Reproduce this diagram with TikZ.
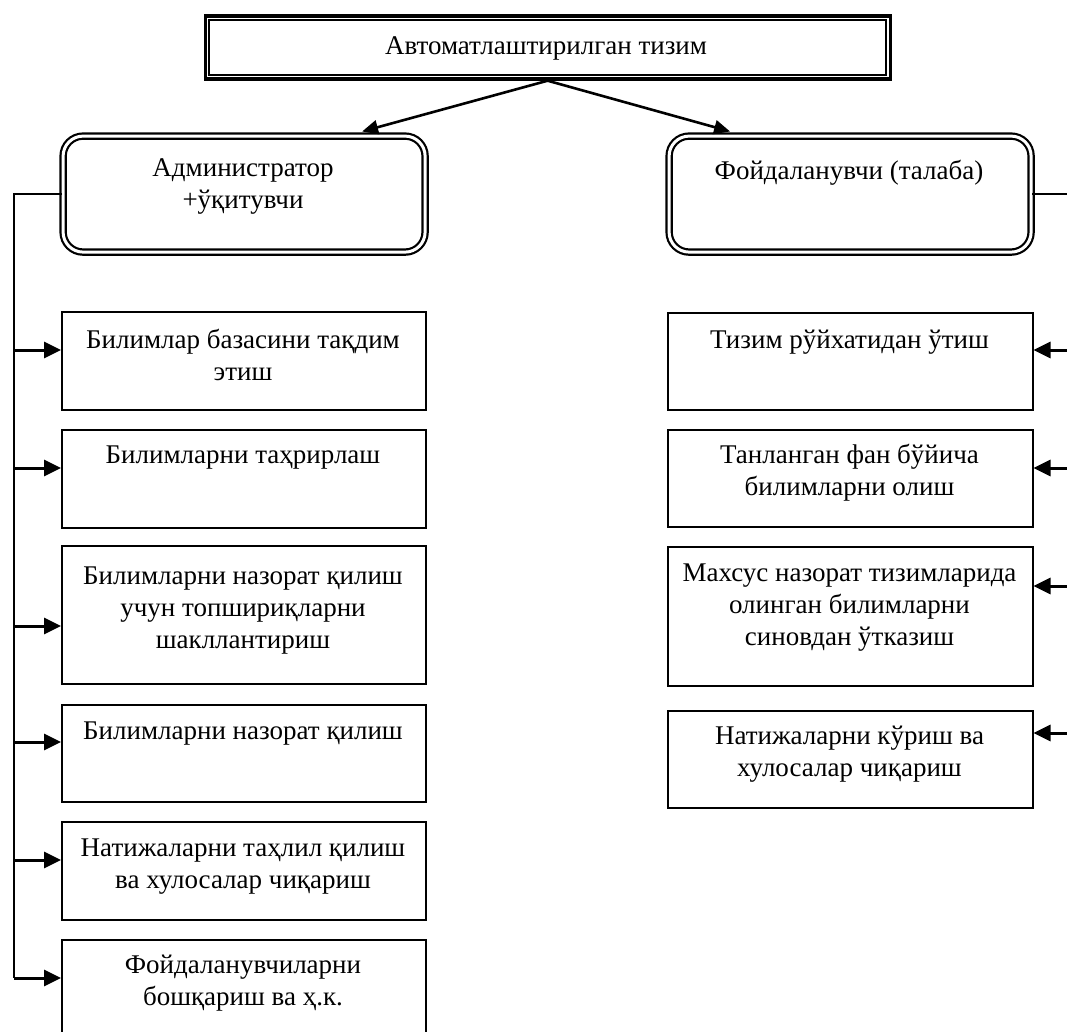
\documentclass[tikz,border=0pt]{standalone}
\usepackage{fontspec}
\setmainfont{Liberation Serif}
\usetikzlibrary{arrows.meta}
\begin{document}
\begin{tikzpicture}[x=1pt,y=-1pt,
  txt/.style={font=\fontsize{27}{32}\selectfont, align=center, inner sep=0pt},
  plainbox/.style={draw, line width=1.5pt, inner sep=0pt, anchor=north west},
  rbox/.style={draw, line width=2.2pt, double, double distance=3pt, rounded corners=20pt, inner sep=0pt, anchor=north west, minimum width=362pt, minimum height=116pt},
  conn/.style={line width=1.5pt},
  arr/.style={line width=3pt, -{Triangle[length=17pt,width=16pt]}},
  tarr/.style={line width=2.6pt, -{Triangle[length=16pt,width=14pt]}}
]
\useasboundingbox (0,0) rectangle (1067,1032);
\clip (0,0) rectangle (1067,1032);

% top box
\node[draw, line width=3.2pt, inner sep=0pt, anchor=north west, minimum width=685pt, minimum height=63pt] (top) at (203.5,14.5) {};
\draw[line width=1.8pt] ([shift={(5.5,5.5)}]top.north west) rectangle ([shift={(-5.5,-5.5)}]top.south east);
\node[txt] (ttop) at (546,48) {Автоматлаштирилган тизим};

% role boxes
\node[rbox] (admin) at (62,135) {};
\node[txt] (tadmin) at (243,187) {Администратор\\+ўқитувчи};
\node[rbox] (user) at (668,135) {};
\node[txt] (tuser) at (849,173) {Фойдаланувчи (талаба)};

% top arrows
\draw[tarr] (top.south) -- ([xshift=118pt,yshift=3.5pt]admin.north);
\draw[tarr] (top.south) -- ([xshift=-120pt,yshift=3.5pt]user.north);

% left boxes
\node[plainbox, minimum width=364pt, minimum height=98pt] (b1) at (61,311) {};
\node[txt] (tb1) at (243,355) {Билимлар базасини тақдим\\этиш};
\node[plainbox, minimum width=364pt, minimum height=98pt] (b2) at (61,429) {};
\node[txt] (tb2) at (243,458) {Билимларни таҳрирлаш};
\node[plainbox, minimum width=364pt, minimum height=138pt] (b3) at (61,545) {};
\node[txt] (tb3) at (243,611) {Билимларни назорат қилиш\\учун топшириқларни\\шакллантириш};
\node[plainbox, minimum width=364pt, minimum height=97pt] (b4) at (61,704) {};
\node[txt] (tb4) at (243,734) {Билимларни назорат қилиш};
\node[plainbox, minimum width=364pt, minimum height=98pt] (b5) at (61,821) {};
\node[txt] (tb5) at (243,867) {Натижаларни таҳлил қилиш\\ва хулосалар чиқариш};
\node[plainbox, minimum width=364pt, minimum height=98pt] (b6) at (61,939) {};
\node[txt] (tb6) at (243,983) {Фойдаланувчиларни\\бошқариш ва ҳ.к.};

% right boxes
\node[plainbox, minimum width=365pt, minimum height=97pt] (r1) at (667,312) {};
\node[txt] (tr1) at (849.5,342) {Тизим рўйхатидан ўтиш};
\node[plainbox, minimum width=365pt, minimum height=97pt] (r2) at (667,429) {};
\node[txt] (tr2) at (849.5,473) {Танланган фан бўйича\\билимларни олиш};
\node[plainbox, minimum width=365pt, minimum height=139pt] (r3) at (667,546) {};
\node[txt] (tr3) at (849.5,608) {Махсус назорат тизимларида\\олинган билимларни\\синовдан ўтказиш};
\node[plainbox, minimum width=365pt, minimum height=97pt] (r4) at (667,710) {};
\node[txt] (tr4) at (849.5,754) {Натижаларни кўриш ва\\хулосалар чиқариш};

% left connector
\coordinate (l1) at (14,350);
\coordinate (l2) at (14,468);
\coordinate (l3) at (14,626);
\coordinate (l4) at (14,742);
\coordinate (l5) at (14,860);
\coordinate (l6) at (14,978);
\draw[conn] (admin.west) -| (l6);
\foreach \i in {1,...,6} {\draw[arr] (l\i) -- (l\i -| b\i.west);}

% right connector
\coordinate (rt) at (1067,193);
\coordinate (q1) at (1067,350);
\coordinate (q2) at (1067,468);
\coordinate (q3) at (1067,586);
\coordinate (q4) at (1067,733);
\draw[conn] (user.east) -- (user.east -| rt);
\foreach \i in {1,...,4} {\draw[arr] (q\i) -- (q\i -| r\i.east);}
\end{tikzpicture}
\end{document}
